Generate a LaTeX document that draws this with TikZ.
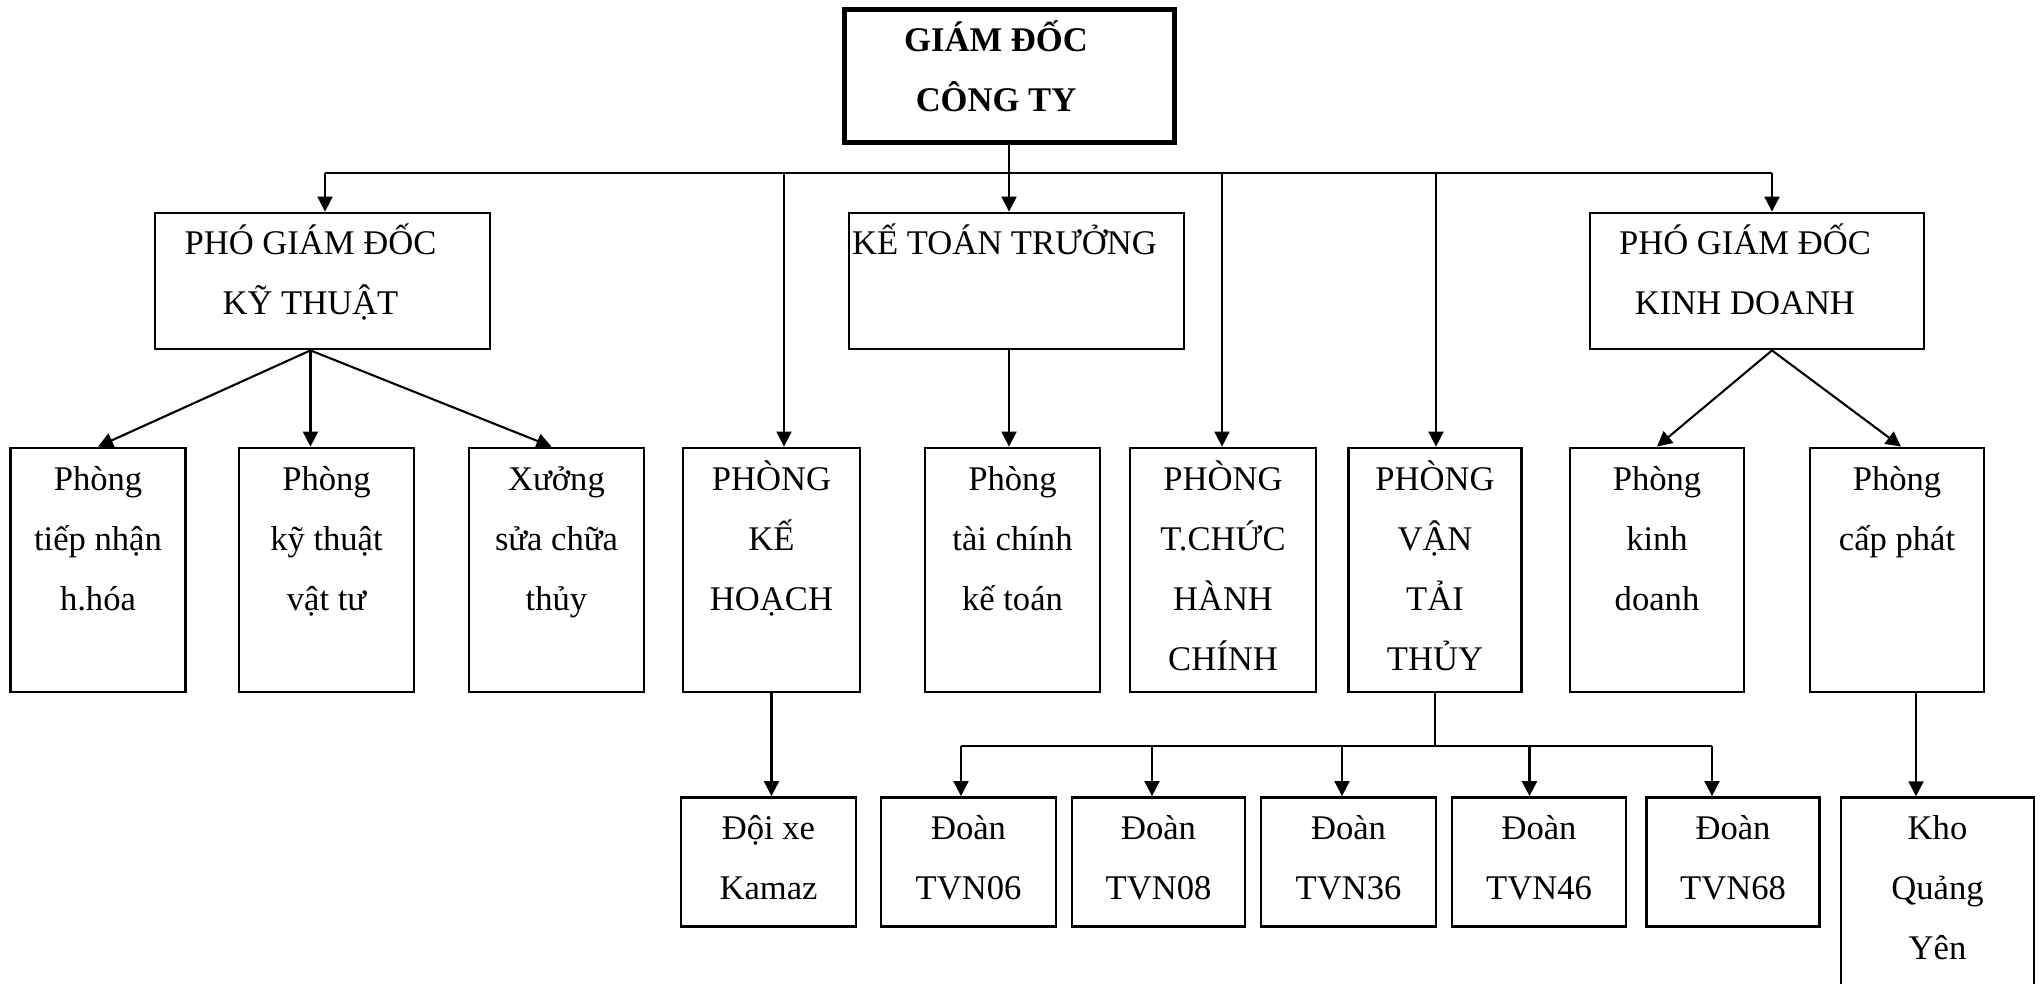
\documentclass[tikz,border=0pt]{standalone}
\usepackage{fontspec}
\setmainfont{Liberation Serif}
\usetikzlibrary{arrows.meta}
% box contents: fixed width and height, lines set from the top
\newcommand\celltext[3]{\parbox[c][#2][t]{#1}{\centering\strut #3}}
% same, with the lines pushed left by half of the last argument
\newcommand\celltextleft[4]{\parbox[c][#2][t]{#1}{\centering\rightskip=#4 plus 1fil\relax\strut #3}}
\begin{document}
\begin{tikzpicture}[x=1pt,y=-1pt,
  box/.style={draw, line width=2.8pt, inner sep=0pt, font=\fontsize{34.6}{60}\selectfont},
  ln/.style={line width=2.1pt},
  arr/.style={line width=2.1pt, -{Triangle[length=15pt,width=15pt]}}]
\fill[white] (0,0) rectangle (2043,984);
\useasboundingbox (0,0) rectangle (2043,984);

% top level
\node[box, line width=5pt] (gd) at (1009,76.5) {\celltextleft{330pt}{133pt}{\bfseries GIÁM ĐỐC\\CÔNG TY}{26pt}};

% second level
\node[box] (pgdkt) at (322.5,281) {\celltextleft{335pt}{136pt}{PHÓ GIÁM ĐỐC\\KỸ THUẬT}{24pt}};
\node[box] (ktt) at (1016.5,281) {\celltextleft{335pt}{136pt}{KẾ TOÁN TRƯỞNG}{24pt}};
\node[box] (pgdkd) at (1757,281) {\celltextleft{334pt}{136pt}{PHÓ GIÁM ĐỐC\\KINH DOANH}{24pt}};

% departments
\node[box] (tn) at (98,570) {\celltext{175pt}{244pt}{Phòng\\tiếp nhận\\h.hóa}};
\node[box] (ktvt) at (326.5,570) {\celltext{175pt}{244pt}{Phòng\\kỹ thuật\\vật tư}};
\node[box] (xsc) at (556.5,570) {\celltext{175pt}{244pt}{Xưởng\\sửa chữa\\thủy}};
\node[box] (kh) at (771.5,570) {\celltext{177pt}{244pt}{PHÒNG\\KẾ\\HOẠCH}};
\node[box] (tckt) at (1012.5,570) {\celltext{175pt}{244pt}{Phòng\\tài chính\\kế toán}};
\node[box] (tchc) at (1223,570) {\celltext{186pt}{244pt}{PHÒNG\\T.CHỨC\\HÀNH\\CHÍNH}};
\node[box] (vtt) at (1435,570) {\celltext{173pt}{244pt}{PHÒNG\\VẬN\\TẢI\\THỦY}};
\node[box] (kd) at (1657,570) {\celltext{174pt}{244pt}{Phòng\\kinh\\doanh}};
\node[box] (cp) at (1897,570) {\celltext{174pt}{244pt}{Phòng\\cấp phát}};

% units
\node[box] (dx) at (768.5,862) {\celltext{175pt}{129pt}{Đội xe\\Kamaz}};
\node[box] (t06) at (968.5,862) {\celltext{175pt}{129pt}{Đoàn\\TVN06}};
\node[box] (t08) at (1158.5,862) {\celltext{173pt}{129pt}{Đoàn\\TVN08}};
\node[box] (t36) at (1348.5,862) {\celltext{175pt}{129pt}{Đoàn\\TVN36}};
\node[box] (t46) at (1539,862) {\celltext{174pt}{129pt}{Đoàn\\TVN46}};
\node[box] (t68) at (1733,862) {\celltext{173pt}{129pt}{Đoàn\\TVN68}};
\node[box] (kho) at (1937.5,922.7) {\celltext{193pt}{250pt}{Kho\\Quảng\\Yên}};

% main bus under the director
\coordinate (b1) at (325,173);
\coordinate (b2) at (784,173);
\coordinate (b4) at (1222,173);
\coordinate (b5) at (1436,173);
\coordinate (b6) at (1772,173);
\draw[ln] (b1) -- (b6);
\draw[arr] (gd.south) -- (gd.south |- ktt.north);
\draw[arr] (b1) -- (b1 |- pgdkt.north);
\draw[arr] (b2) -- (b2 |- kh.north);
\draw[arr] (b4) -- (b4 |- tchc.north);
\draw[arr] (b5) -- (b5 |- vtt.north);
\draw[arr] (b6) -- (b6 |- pgdkd.north);

% technical deputy
\coordinate (kt0) at ([xshift=-12pt]pgdkt.south);
\draw[arr] (kt0) -- (tn.north);
\draw[arr] (kt0) -- (kt0 |- ktvt.north);
\draw[arr] (kt0) -- ([xshift=-5pt]xsc.north);

% chief accountant
\draw[arr] (gd.south |- ktt.south) -- (gd.south |- tckt.north);

% business deputy
\coordinate (kd0) at (b6 |- pgdkd.south);
\draw[arr] (kd0) -- (kd.north);
\draw[arr] (kd0) -- ([xshift=4pt]cp.north);

% planning -> trucks
\draw[arr] (kh.south) -- (kh.south |- dx.north);

% river transport -> fleets
\coordinate (vb) at (vtt.south |- 0,746);
\draw[ln] (vtt.south) -- (vb);
\coordinate (c1) at (961,746);
\coordinate (c2) at (1152,746);
\coordinate (c3) at (1342,746);
\coordinate (c4) at (1529.5,746);
\coordinate (c5) at (1712,746);
\draw[ln] (c1) -- (c5);
\draw[arr] (c1) -- (c1 |- t06.north);
\draw[arr] (c2) -- (c2 |- t08.north);
\draw[arr] (c3) -- (c3 |- t36.north);
\draw[arr] (c4) -- (c4 |- t46.north);
\draw[arr] (c5) -- (c5 |- t68.north);

% supply -> warehouse
\coordinate (k0) at ([xshift=19pt]cp.south);
\draw[arr] (k0) -- (k0 |- kho.north);
\end{tikzpicture}
\end{document}
